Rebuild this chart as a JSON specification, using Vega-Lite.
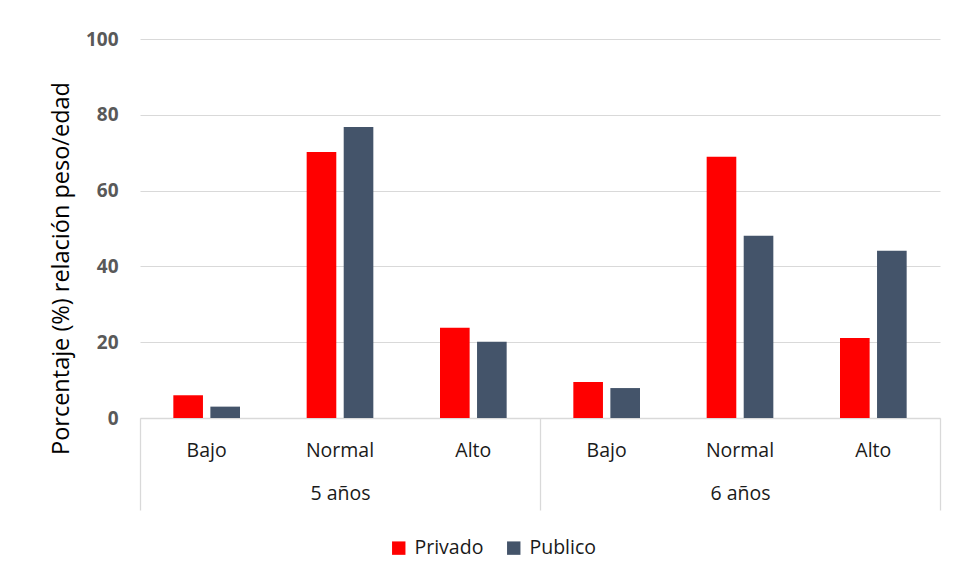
{
  "$schema": "https://vega.github.io/schema/vega-lite/v6.json",
  "width": 800,
  "height": 379,
  "padding": {"left": 49, "top": 30, "right": 16, "bottom": 10},
  "background": "white",
  "config": {
    "font": "Open Sans",
    "view": {"stroke": null}
  },
  "data": {
    "values": [
      {"edad": "5 años", "nivel": "Bajo", "key": "5 años|Bajo", "tipo": "Privado", "valor": 6},
      {"edad": "5 años", "nivel": "Bajo", "key": "5 años|Bajo", "tipo": "Publico", "valor": 3},
      {"edad": "5 años", "nivel": "Normal", "key": "5 años|Normal", "tipo": "Privado", "valor": 70.2},
      {"edad": "5 años", "nivel": "Normal", "key": "5 años|Normal", "tipo": "Publico", "valor": 76.8},
      {"edad": "5 años", "nivel": "Alto", "key": "5 años|Alto", "tipo": "Privado", "valor": 23.8},
      {"edad": "5 años", "nivel": "Alto", "key": "5 años|Alto", "tipo": "Publico", "valor": 20.1},
      {"edad": "6 años", "nivel": "Bajo", "key": "6 años|Bajo", "tipo": "Privado", "valor": 9.5},
      {"edad": "6 años", "nivel": "Bajo", "key": "6 años|Bajo", "tipo": "Publico", "valor": 7.9},
      {"edad": "6 años", "nivel": "Normal", "key": "6 años|Normal", "tipo": "Privado", "valor": 68.9},
      {"edad": "6 años", "nivel": "Normal", "key": "6 años|Normal", "tipo": "Publico", "valor": 48.1},
      {"edad": "6 años", "nivel": "Alto", "key": "6 años|Alto", "tipo": "Privado", "valor": 21.1},
      {"edad": "6 años", "nivel": "Alto", "key": "6 años|Alto", "tipo": "Publico", "valor": 44.1}
    ]
  },
  "layer": [
    {
      "mark": {"type": "bar"},
      "encoding": {
        "x": {
          "field": "key", "type": "nominal", "sort": null,
          "scale": {"paddingInner": 0.5, "paddingOuter": 0.25},
          "axis": {
            "orient": "bottom",
            "title": null,
            "labelExpr": "split(datum.value, '|')[1]",
            "labelAngle": 0,
            "labelFontSize": 19.5,
            "labelColor": "#1a1a1a",
            "labelPadding": 23,
            "ticks": false,
            "domainColor": "#d9d9d9",
            "domainWidth": 1.3
          }
        },
        "xOffset": {"field": "tipo", "type": "nominal", "scale": {"paddingInner": 0.2}},
        "y": {
          "field": "valor", "type": "quantitative",
          "scale": {"domain": [0, 100]},
          "axis": {
            "title": "Porcentaje (%) relación peso/edad",
            "titleFontSize": 23.5,
            "titleFontWeight": "normal",
            "titleColor": "#000000",
            "titlePadding": 12,
            "titleY": 229,
            "values": [0, 20, 40, 60, 80, 100],
            "labelFontSize": 19,
            "labelFontWeight": "bold",
            "labelColor": "#595959",
            "labelPadding": 22,
            "ticks": false,
            "domain": false,
            "gridColor": "#d9d9d9",
            "gridWidth": 1
          }
        },
        "color": {
          "field": "tipo", "type": "nominal",
          "scale": {"domain": ["Privado", "Publico"], "range": ["#ff0000", "#44546a"]},
          "legend": {
            "title": null,
            "orient": "none",
            "legendX": 249,
            "legendY": 499,
            "direction": "horizontal",
            "symbolType": "square",
            "symbolSize": 180,
            "symbolStrokeWidth": 0,
            "labelFontSize": 19.5,
            "labelColor": "#1a1a1a",
            "labelOffset": 6,
            "columnPadding": 20
          }
        }
      }
    },
    {
      "mark": {"type": "point", "opacity": 0},
      "encoding": {
        "x": {
          "field": "edad", "type": "nominal", "sort": null,
          "scale": {"paddingInner": 0, "paddingOuter": 0},
          "axis": {
            "orient": "bottom",
            "title": null,
            "labelAngle": 0,
            "labelFontSize": 19.5,
            "labelColor": "#1a1a1a",
            "tickBand": "extent",
            "tickSize": 92,
            "tickColor": "#d9d9d9",
            "tickWidth": 1.3,
            "labelPadding": -26,
            "domain": false,
            "grid": false,
            "offset": 0
          }
        },
        "y": {"field": "valor", "type": "quantitative"}
      }
    }
  ],
  "resolve": {"scale": {"x": "independent", "xOffset": "independent"}, "axis": {"x": "independent"}}
}
